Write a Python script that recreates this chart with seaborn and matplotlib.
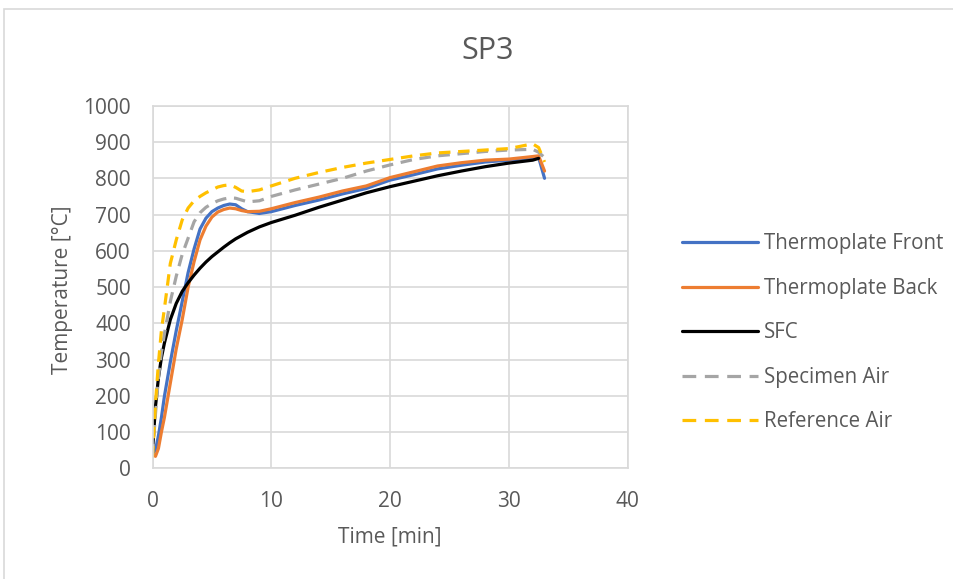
import numpy as np
import pandas as pd
import matplotlib.pyplot as plt
import seaborn as sns
from matplotlib.patches import Rectangle

# Values (time in minutes, temperature in degC)
time = [0, 0.25, 0.5, 0.75, 1, 1.5, 2, 2.5, 3, 3.5, 4, 4.5, 5, 5.5, 6, 6.5, 7, 7.5, 8,
        9, 10, 12, 14, 16, 18, 20, 22, 24, 26, 28, 30, 32, 32.5, 33]

front = [40, 50, 90, 140, 198, 293, 380, 460, 540, 605, 660, 690, 708, 718, 725, 729, 727, 716, 708,
         703, 708, 725, 740, 757, 772, 795, 810, 826, 836, 845, 850, 856, 858, 800]

back = [40, 33, 55, 100, 140, 235, 330, 410, 500, 570, 630, 668, 693, 707, 714, 718, 716, 711, 708,
        709, 716, 733, 748, 765, 779, 802, 818, 834, 843, 850, 853, 860, 862, 820]

sfc = [50, 170, 250, 305, 345, 410, 455, 488, 512, 533, 552, 569, 584, 597, 610, 622, 633, 642, 651,
       666, 678, 698, 720, 740, 760, 777, 792, 807, 820, 832, 842, 850, 855, np.nan]

specimen_air = [35, 150, 250, 320, 370, 460, 530, 590, 635, 680, 705, 720, 730, 738, 743, 746, 745, 740, 735,
                738, 750, 768, 784, 800, 820, 837, 852, 862, 868, 874, 878, 880, 872, 857]

reference_air = [30, 180, 290, 380, 440, 565, 630, 685, 718, 738, 750, 760, 768, 776, 780, 782, 775, 765, 763,
                 768, 779, 800, 816, 830, 842, 852, 862, 870, 874, 878, 882, 895, 885, 845]

series_names = ["Thermoplate Front", "Thermoplate Back", "SFC", "Specimen Air", "Reference Air"]
series_colors = ["#4472C4", "#ED7D31", "#000000", "#A5A5A5", "#FFC000"]

frames = []
for name, vals in zip(series_names, [front, back, sfc, specimen_air, reference_air]):
    frames.append(pd.DataFrame({"Time": time, "Temperature": vals, "Series": name}))
df = pd.concat(frames, ignore_index=True).dropna()

sns.set_theme(style="white")
plt.rcParams["font.family"] = ["Open Sans", "DejaVu Sans"]
text_color = "#595959"
grid_color = "#D9D9D9"

fig = plt.figure(figsize=(9.54, 5.79), dpi=100)
ax = fig.add_axes([152.5 / 954, 1 - 468.3 / 579, 475.2 / 954, 362.5 / 579])

dash_styles = {"Thermoplate Front": "", "Thermoplate Back": "", "SFC": "",
               "Specimen Air": (3.6, 2.4), "Reference Air": (3.6, 2.4)}

sns.lineplot(data=df, x="Time", y="Temperature", hue="Series", style="Series",
             hue_order=series_names, style_order=series_names,
             palette=dict(zip(series_names, series_colors)), dashes=dash_styles,
             linewidth=2.3, estimator=None, sort=False, ax=ax)

ax.set_xlim(0, 40)
ax.set_ylim(0, 1000)
ax.set_xticks(range(0, 41, 10))
ax.set_yticks(range(0, 1001, 100))
ax.grid(True, color=grid_color, linewidth=1.2)
ax.set_axisbelow(True)
for side in ax.spines.values():
    side.set_color(grid_color)
    side.set_linewidth(1.2)
ax.tick_params(axis="both", length=0, labelsize=15, labelcolor=text_color)
ax.tick_params(axis="y", pad=15.5)
ax.tick_params(axis="x", pad=16)

ax.set_xlabel("Time [min]", fontsize=15, color=text_color)
ax.set_ylabel("Temperature [°C]", fontsize=15, color=text_color)
ax.xaxis.set_label_coords(0.5, -0.16)
ax.yaxis.set_label_coords(-0.168, 0.492)

sns.move_legend(ax, loc="upper left", bbox_to_anchor=(681.7 / 954, 1 - 233.5 / 579),
                bbox_transform=fig.transFigure, frameon=False, title=None,
                fontsize=14.8, handlelength=3.7, handletextpad=0.3, labelspacing=1.14,
                borderpad=0, borderaxespad=0)
for txt in ax.get_legend().get_texts():
    txt.set_color(text_color)
for h in ax.get_legend().legend_handles:
    h.set_linewidth(2.3)
    if h.get_label() in ("Specimen Air", "Reference Air"):
        h.set_dashes((4.3, 2.7))

fig.text(487.8 / 954, 1 - 50.7 / 579, "SP3", ha="center", va="center", fontsize=22, color=text_color)

# light chart-area border (cut off at the right and bottom)
fig.patches.append(Rectangle((4.5 / 954, -0.1), 2, 1 - 8.5 / 579 + 0.1, transform=fig.transFigure,
                             fill=False, edgecolor=grid_color, linewidth=1.2))

plt.savefig("out.png", dpi=100)
